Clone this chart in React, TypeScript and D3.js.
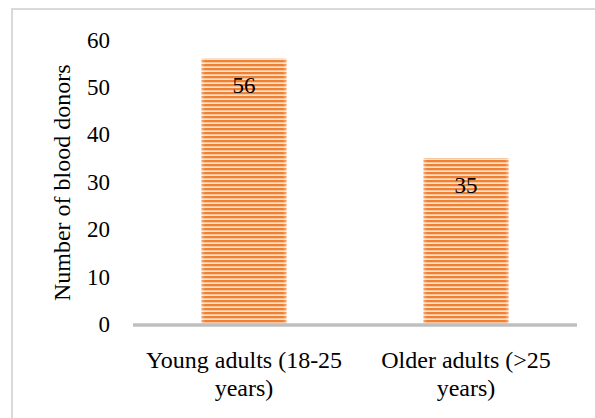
import React from "react";
import * as d3 from "d3";

const categories: string[][] = [
  ["Young adults (18-25", "years)"],
  ["Older adults (>25", "years)"],
];
const values: number[] = [56, 35];
const yTicks: number[] = [0, 10, 20, 30, 40, 50, 60];
const yTitle = "Number of blood donors";

const W = 595;
const H = 418;

export default function App() {
  const x = d3.scaleBand<number>().domain(d3.range(values.length)).range([133, 577]).padding(0);
  const y = d3.scaleLinear().domain([0, 60]).range([324, 39.5]);
  const barW = x.bandwidth() * 0.383;
  const font = "'Liberation Serif', 'Times New Roman', serif";

  return (
    <svg width={W} height={H} style={{ position: "absolute", left: 0, top: 0 }}>
      <defs>
        <pattern id="hstripe" patternUnits="userSpaceOnUse" width={8} height={4}>
          <rect x={0} y={0} width={8} height={4} fill="#fbe1cf" />
          <rect x={0} y={0} width={8} height={2.3} fill="#ef8232" />
        </pattern>
        <linearGradient id="edge" x1="0" x2="1" y1="0" y2="0">
          <stop offset="0" stopColor="#fff" stopOpacity={0.35} />
          <stop offset="0.04" stopColor="#fff" stopOpacity={0} />
          <stop offset="0.96" stopColor="#fff" stopOpacity={0} />
          <stop offset="1" stopColor="#fff" stopOpacity={0.35} />
        </linearGradient>
      </defs>
      <rect x={0} y={0} width={W} height={H} fill="#fff" />
      <rect x={12} y={9} width={W + 20} height={H + 20} fill="none" stroke="#d9d9d9" strokeWidth={2} />

      {yTicks.map((t) => (
        <text key={t} x={110} y={y(t)} dy="0.35em" textAnchor="end" fontFamily={font} fontSize={23} fill="#000">
          {t}
        </text>
      ))}

      <text
        transform={`translate(70,${(y(0) + y(60)) / 2 + 1}) rotate(-90)`}
        textAnchor="middle"
        fontFamily={font}
        fontSize={24}
        fill="#000"
      >
        {yTitle}
      </text>

      {values.map((v, i) => {
        const cx = (x(i) as number) + x.bandwidth() / 2;
        return (
          <g key={i}>
            <rect x={cx - barW / 2} y={y(v)} width={barW} height={y(0) - y(v)} fill="url(#hstripe)" />
            <rect x={cx - barW / 2} y={y(v)} width={barW} height={y(0) - y(v)} fill="url(#edge)" />
            <text x={cx} y={y(v) + 26.5} dy="0.35em" textAnchor="middle" fontFamily={font} fontSize={23} fill="#000">
              {v}
            </text>
          </g>
        );
      })}

      <line x1={133} x2={577} y1={y(0) + 1} y2={y(0) + 1} stroke="#bfbfbf" strokeWidth={3.5} />

      {categories.map((lines, i) => {
        const cx = (x(i) as number) + x.bandwidth() / 2;
        return (
          <text key={i} textAnchor="middle" fontFamily={font} fontSize={24} fill="#000">
            {lines.map((l, j) => (
              <tspan key={j} x={cx} y={368 + j * 28}>
                {l}
              </tspan>
            ))}
          </text>
        );
      })}
    </svg>
  );
}
